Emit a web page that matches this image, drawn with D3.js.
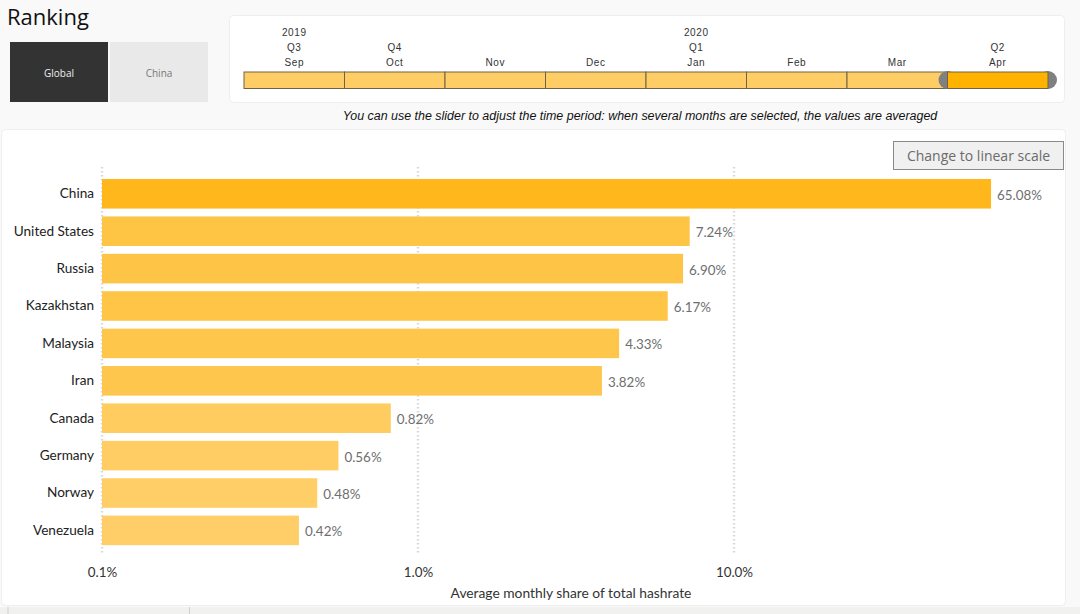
<!DOCTYPE html>
<html>

<head>
    <title>Ranking</title>
    <style>
        html, body {
            margin: 0;
            padding: 0;
            background-color: #f9f9f9;
            overflow: hidden;
        }

        text {
            font-family: "Open Sans", "Noto Sans", sans-serif;
        }

        .slidertext text, text.slidertext {
            font-family: "Liberation Sans", Arial, sans-serif;
        }

        .panel {
            fill: #fff;
            stroke: #eeeeee;
            stroke-width: 1px;
        }
    </style>
    <script src="https://d3js.org/d3.v7.min.js"></script>
</head>

<body>
<svg id="dataviz" width="1080" height="614"></svg>
<script>
    // values
    var countries = ["China", "United States", "Russia", "Kazakhstan", "Malaysia", "Iran", "Canada", "Germany", "Norway", "Venezuela"];
    var shares = [65.08, 7.24, 6.90, 6.17, 4.33, 3.82, 0.82, 0.56, 0.48, 0.42];
    var axisTicks = [0.1, 1, 10];

    var months = ["Sep", "Oct", "Nov", "Dec", "Jan", "Feb", "Mar", "Apr"];
    var quarters = ["Q3", "Q4", "", "", "Q1", "", "", "Q2"];
    var years = ["2019", "", "", "", "2020", "", "", ""];
    var selectedMonth = "Apr";

    var svg = d3.select("#dataviz");

    // header
    svg.append("text").attr("x", 7).attr("y", 25).style("font-size", "22px").attr("fill", "#111").text("Ranking");

    svg.append("rect").attr("x", 10).attr("y", 42).attr("width", 98).attr("height", 60).attr("fill", "#333");
    svg.append("rect").attr("x", 110).attr("y", 42).attr("width", 98).attr("height", 60).attr("fill", "#e9e9e9");
    svg.append("text").attr("x", 59).attr("y", 76.5).attr("text-anchor", "middle").style("font-size", "10px").attr("fill", "#eee").text("Global");
    svg.append("text").attr("x", 159).attr("y", 76.5).attr("text-anchor", "middle").style("font-size", "10px").attr("fill", "#777").text("China");

    // slider
    svg.append("rect").attr("class", "panel").attr("x", 229.5).attr("y", 15.5).attr("width", 835).attr("height", 87).attr("rx", 4);

    var sx = d3.scaleBand().domain(months).range([244, 1048]);
    var slider = svg.append("g").attr("class", "slidertext");

    function monthCell(g) {
        g.attr("x", d => sx(d))
            .attr("y", 72)
            .attr("width", sx.bandwidth())
            .attr("height", 16.5)
            .attr("stroke", "#6f6443")
            .attr("stroke-width", 1);
    }

    // months first, then the grey handles, the selected month sits on top of them
    slider.append("g").selectAll("rect")
        .data(months.filter(d => d !== selectedMonth))
        .join("rect")
        .call(monthCell)
        .attr("fill", "#ffcd66");

    slider.append("g").selectAll("circle")
        .data([sx(selectedMonth), sx.range()[1]])
        .join("circle")
        .attr("cx", d => d)
        .attr("cy", 80)
        .attr("r", 9)
        .attr("fill", "#808080");

    slider.append("g").selectAll("rect")
        .data([selectedMonth])
        .join("rect")
        .call(monthCell)
        .attr("fill", "#ffb200");

    [[months, 66], [quarters, 50.5], [years, 35.5]].forEach(function (row) {
        slider.append("g").selectAll("text")
            .data(row[0])
            .join("text")
            .attr("x", (d, i) => sx(months[i]) + sx.bandwidth() / 2)
            .attr("y", row[1])
            .attr("text-anchor", "middle")
            .style("font-size", "10px")
            .style("letter-spacing", "0.6px")
            .attr("fill", "#333")
            .text(d => d);
    });

    svg.append("text")
        .attr("class", "slidertext")
        .attr("x", 640).attr("y", 119.5)
        .attr("text-anchor", "middle")
        .style("font-size", "12.45px")
        .style("font-style", "italic")
        .attr("fill", "#111")
        .text("You can use the slider to adjust the time period: when several months are selected, the values are averaged");

    // chart panel
    svg.append("rect").attr("class", "panel").attr("x", 1.5).attr("y", 129.5).attr("width", 1064).attr("height", 476).attr("rx", 4);

    // button
    svg.append("rect").attr("x", 893.5).attr("y", 141.5).attr("width", 170).attr("height", 28).attr("fill", "#f0f0f0").attr("stroke", "#8a8a8a");
    svg.append("text").attr("x", 978.5).attr("y", 161).attr("text-anchor", "middle").style("font-size", "14px").attr("fill", "#6b6b6b").text("Change to linear scale");

    // scales
    var x = d3.scaleLog().domain([0.1, 10]).range([102, 734]);
    var y = d3.scaleBand().domain(countries).range([174.9, 549.3]).paddingInner(0.21).paddingOuter(0.11);

    var color = d3.scaleLog().domain([0.42, 7.24, 65.08]).range(["#ffce68", "#fec444", "#ffb71b"]);

    // dotted grid lines
    svg.append("g").selectAll("line")
        .data(axisTicks)
        .join("line")
        .attr("x1", d => x(d))
        .attr("x2", d => x(d))
        .attr("y1", 167)
        .attr("y2", 553)
        .attr("stroke", "#d9d9d9")
        .attr("stroke-width", 2.5)
        .attr("stroke-dasharray", "1.5,2.5");

    // bars
    svg.append("g").selectAll("rect")
        .data(shares)
        .join("rect")
        .attr("x", x(0.1))
        .attr("y", (d, i) => y(countries[i]))
        .attr("width", d => x(d) - x(0.1))
        .attr("height", y.bandwidth())
        .attr("fill", d => color(d));

    // value labels
    svg.append("g").selectAll("text")
        .data(shares)
        .join("text")
        .attr("x", d => x(d) + 6)
        .attr("y", (d, i) => y(countries[i]) + y.bandwidth() / 2 + 6)
        .style("font-size", "13.4px")
        .style("font-family", "Lato, sans-serif")
        .attr("fill", "#6e6e6e")
        .text(d => d.toFixed(2) + "%");

    // axes
    var yAxis = svg.append("g")
        .attr("transform", "translate(" + x(0.1) + ",0)")
        .call(d3.axisLeft(y).tickSize(0).tickPadding(8));
    yAxis.select(".domain").remove();
    yAxis.selectAll("text").style("font-size", "13.6px").style("font-family", "Lato, sans-serif").attr("fill", "#222");

    var xAxis = svg.append("g")
        .attr("transform", "translate(0,564)")
        .call(d3.axisBottom(x).tickValues(axisTicks).tickSize(0).tickPadding(3).tickFormat(d => d.toFixed(1) + "%"));
    xAxis.select(".domain").remove();
    xAxis.selectAll("text").style("font-size", "13.4px").style("font-family", "Lato, sans-serif").attr("fill", "#333");

    svg.append("text")
        .attr("x", 571).attr("y", 598)
        .attr("text-anchor", "middle")
        .style("font-size", "13.8px")
        .style("font-family", "Lato, sans-serif")
        .attr("fill", "#333")
        .text("Average monthly share of total hashrate");

    // bottom tab strip
    svg.append("rect").attr("x", 0).attr("y", 607).attr("width", 1080).attr("height", 7).attr("fill", "#f1f1f0");
    svg.append("g").selectAll("line")
        .data([8, 189.5])
        .join("line")
        .attr("x1", d => d).attr("x2", d => d)
        .attr("y1", 607).attr("y2", 614)
        .attr("stroke", "#cfcfcf");
</script>
</body>

</html>
